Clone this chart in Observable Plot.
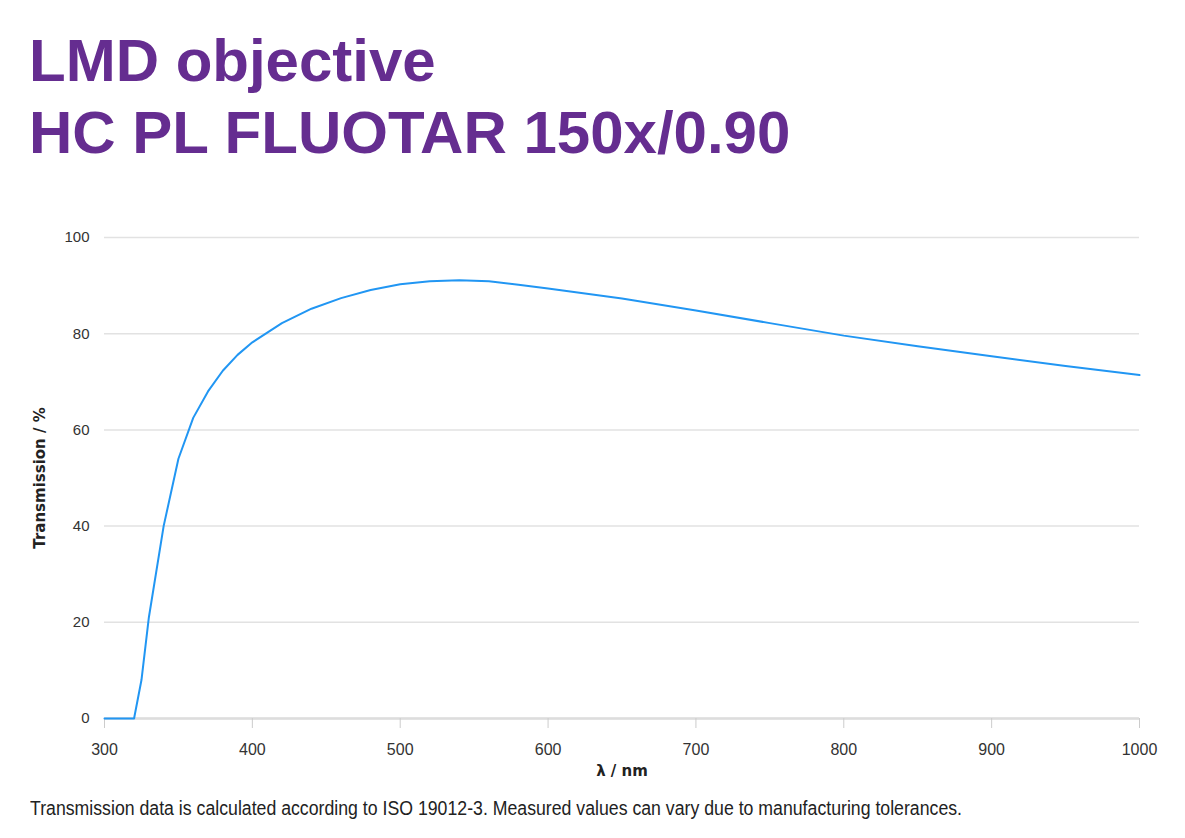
<!DOCTYPE html>
<html><head><meta charset="utf-8">
<script src="https://cdn.jsdelivr.net/npm/d3@7"></script>
<script src="https://cdn.jsdelivr.net/npm/@observablehq/plot@0.6"></script>
<style>
body{margin:0;background:#fff;width:1185px;height:838px;position:relative;overflow:hidden;font-family:"Liberation Sans",Arial,sans-serif;}
#title{position:absolute;left:29px;top:25px;color:#652d90;font-weight:bold;font-size:60px;line-height:72px;white-space:nowrap;}
#chart{position:absolute;left:0;top:200px;}
#caption{position:absolute;left:30px;top:799px;font-family:"Liberation Sans Narrow","Liberation Sans",sans-serif;font-size:19.5px;line-height:1;color:#222;white-space:nowrap;transform-origin:0 0;}
</style>
</head><body>
<div id="title">LMD objective<br>HC PL FLUOTAR 150x/0.90</div>
<div id="chart"></div>
<div id="caption"><span id="captext">Transmission data is calculated according to ISO 19012-3. Measured values can vary due to manufacturing tolerances.</span></div>
<script>
const wavelength = [300,310,320,325,330,340,350,360,370,380,390,400,420,440,460,480,500,520,540,560,580,600,650,700,750,800,850,900,950,1000];
const transmission = [0,0,0,8,21,40,54,62.5,68,72.3,75.6,78.2,82.2,85.2,87.4,89.1,90.3,90.9,91.1,90.9,90.2,89.4,87.3,84.8,82.2,79.6,77.4,75.3,73.3,71.4];
const xTicks = [300,400,500,600,700,800,900,1000];
const yTicks = [0,20,40,60,80,100];
const xLabel = "λ / nm";
const yLabel = "Transmission / %";

const data = wavelength.map((w, i) => ({w, t: transmission[i]}));

const chart = Plot.plot({
  width: 1185, height: 590,
  marginLeft: 104, marginRight: 46, marginTop: 37, marginBottom: 72,
  style: {fontFamily: "'Liberation Sans', Arial, sans-serif", fontSize: "15px", color: "#333", background: "transparent", overflow: "visible"},
  x: {domain: [300, 1000]},
  y: {domain: [0, 100]},
  marks: [
    Plot.gridY(yTicks, {stroke: "#e2e2e2", strokeOpacity: 1, strokeWidth: 1.5}),
    Plot.ruleY([0], {stroke: "#dddddd", strokeWidth: 2.5}),
    Plot.axisX({ticks: xTicks, tickFormat: d => String(d), tickSize: 10, tickPadding: 15, stroke: "#cccccc", fill: "#333", fontSize: 16, label: null}),
    Plot.axisY({ticks: yTicks, tickFormat: d => String(d), tickSize: 0, tickPadding: 15, fill: "#333", fontSize: 15, label: null}),
    Plot.line(data, {x: "w", y: "t", stroke: "#2196f3", strokeWidth: 2}),
    Plot.text([xLabel], {text: d => d, frameAnchor: "bottom", dy: 57, fontWeight: "bold", fontSize: 15, fontFamily: "'DejaVu Sans', sans-serif", fill: "#222"}),
    Plot.text([yLabel], {text: d => d, frameAnchor: "left", textAnchor: "middle", dx: -64, rotate: -90, fontWeight: "bold", fontSize: 15, fontFamily: "'DejaVu Sans', sans-serif", fill: "#222"})
  ]
});
document.getElementById("chart").appendChild(chart);

const cap = document.getElementById("caption");
const w = document.getElementById("captext").getBoundingClientRect().width;
if (w > 0) cap.style.transform = `scaleX(${932 / w})`;
</script>
</body></html>
